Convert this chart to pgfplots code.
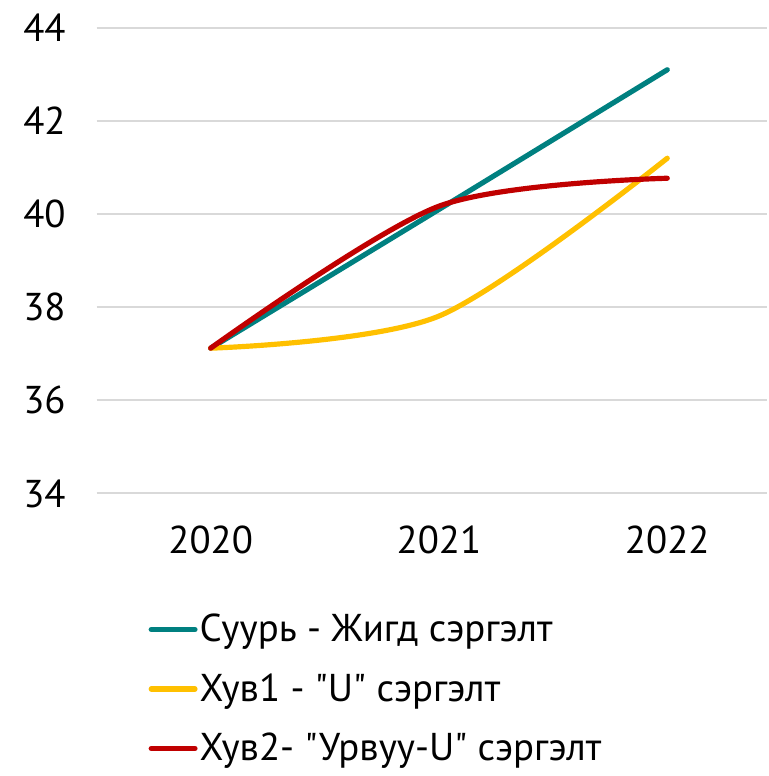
\documentclass[border=0pt]{standalone}
\usepackage{pgfplots}
\pgfplotsset{compat=1.18}
\usepackage{fontspec}
\setmainfont{PT Sans}[Ligatures=TeXOff]
\definecolor{cteal}{HTML}{008080}
\definecolor{cyel}{HTML}{FFC000}
\definecolor{cred}{HTML}{C00000}
\begin{document}
\begin{tikzpicture}
\path (-48.5pt,248pt) rectangle (337pt,-142pt);
\begin{axis}[
  scale only axis,
  width=337pt, height=234pt,
  xmin=-0.5, xmax=2.437,
  ymin=34, ymax=44,
  ytick={34,36,...,44},
  xtick={0,1,2},
  xticklabels={2020,2021,2022},
  axis line style={draw=none},
  major tick length=0pt,
  ymajorgrids,
  grid style={gray!30, line width=1pt},
  tick label style={font=\fontsize{19.5}{22}\selectfont},
  /pgf/number format/assume math mode=true,
  yticklabel style={xshift=-12pt},
  xticklabel style={yshift=-13pt},
  clip=false,
  legend cell align=left,
  legend style={at={(0,0)}, anchor=north west, xshift=26pt, yshift=-59.5pt,
    draw=none, fill=none, font=\fontsize{19.5}{22}\selectfont,
    row sep=12.5pt, inner sep=0pt, nodes={inner sep=1pt}},
  legend image code/.code={\draw[#1, line width=2.6pt, line cap=round] (0pt,0pt) -- (22pt,0pt);},
]
\addplot[cteal, line width=2.6pt, line cap=round, smooth] coordinates {(0,37.12) (1,40.10) (2,43.10)};
\addlegendentry{Суурь - Жигд сэргэлт}
\addplot[cyel, line width=2.6pt, line cap=round, smooth] coordinates {(0,37.12) (1,37.81) (2,41.20)};
\addlegendentry{Хув1 - "U" сэргэлт}
\addplot[cred, line width=2.6pt, line cap=round, smooth] coordinates {(0,37.12) (1,40.17) (2,40.77)};
\addlegendentry{Хув2- "Урвуу-U" сэргэлт}
\end{axis}
\end{tikzpicture}
\end{document}
